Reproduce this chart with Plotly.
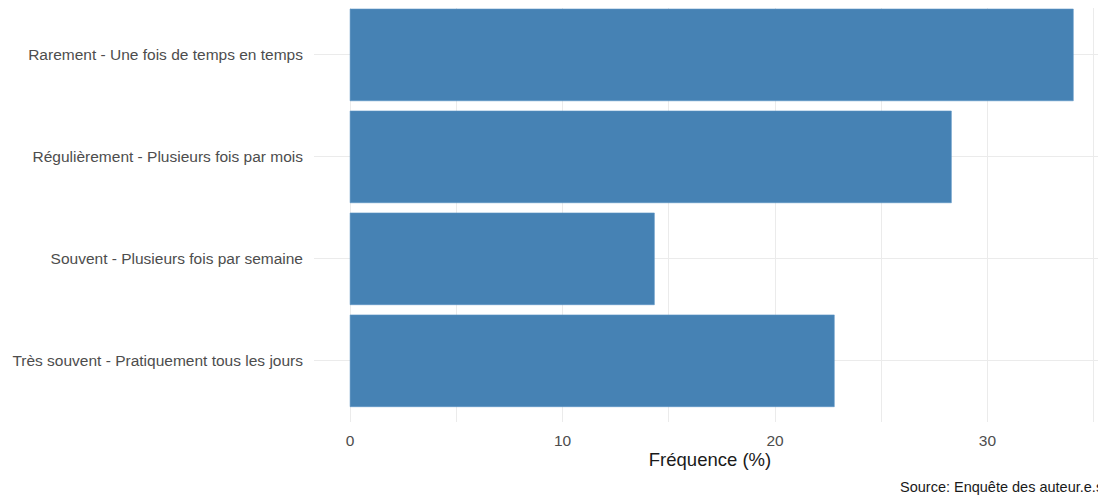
import plotly.graph_objects as go

categories = [
    "Très souvent - Pratiquement tous les jours",
    "Souvent - Plusieurs fois par semaine",
    "Régulièrement - Plusieurs fois par mois",
    "Rarement - Une fois de temps en temps",
]
frequences = [22.79, 14.32, 28.3, 34.04]
x_ticks = [0, 10, 20, 30]

fig = go.Figure(go.Bar(
    x=frequences, y=categories, orientation="h",
    width=0.9,
    marker=dict(color="#4682B4", line=dict(color="#5A93C4", width=0.6)),
    hoverinfo="x+y",
))

font_family = "Liberation Sans, Arial, sans-serif"
# the page adds an 8px body margin; the figure is sized to fill the rest
fig.update_layout(
    width=1098, height=489,
    margin=dict(l=306, r=0, t=0, b=75),
    paper_bgcolor="white", plot_bgcolor="white",
    showlegend=False,
    font=dict(family=font_family, color="#4D4D4D"),
    xaxis=dict(
        range=[-1.7, 35.58],
        tickvals=x_ticks, ticktext=[str(v) for v in x_ticks],
        showgrid=True, gridcolor="#EBEBEB", gridwidth=1.1,
        minor=dict(dtick=5, tick0=0, showgrid=True, gridcolor="#EBEBEB", gridwidth=0.6),
        zeroline=False, showline=False, ticks="",
        tickfont=dict(size=15.5, color="#4D4D4D"),
        ticklabelstandoff=7,
        title=dict(text="Fréquence (%)", font=dict(size=18.5, color="#1A1A1A"), standoff=5),
    ),
    yaxis=dict(
        categoryorder="array", categoryarray=categories,
        range=[-0.6, 3.46],
        showgrid=True, gridcolor="#EBEBEB", gridwidth=1.1,
        zeroline=False, showline=False, ticks="",
        tickfont=dict(size=15.5, color="#4D4D4D"),
        ticklabelstandoff=10,
    ),
    annotations=[dict(
        text="Source: Enquête des auteur.e.s",
        xref="paper", yref="paper", x=1.0, y=0, xanchor="right", yanchor="middle",
        xshift=-1, yshift=-65, showarrow=False,
        font=dict(size=14.5, color="#1A1A1A", family=font_family),
    )],
)

fig.write_html("out.html")
